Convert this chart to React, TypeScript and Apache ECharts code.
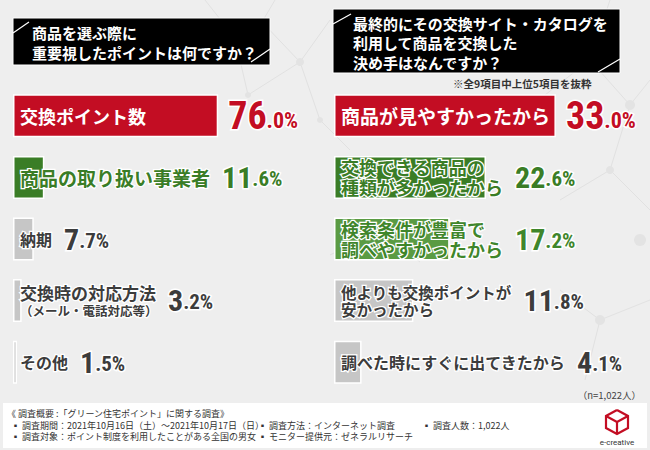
import React, { useEffect, useRef } from 'react';
import * as echarts from 'echarts';

// ---------- data ----------
const leftTitle = ['商品を選ぶ際に', '重要視したポイントは何ですか？'];
const rightTitle = ['最終的にその交換サイト・カタログを', '利用して商品を交換した', '決め手はなんですか？'];
const rightNote = '※全9項目中上位5項目を抜粋';
const sampleNote = '（n=1,022人）';

const leftCategories = ['交換ポイント数', '商品の取り扱い事業者', '納期', '交換時の対応方法\n（メール・電話対応等）', 'その他'];
const leftValues = [76.0, 11.6, 7.7, 3.2, 1.5];

const rightCategories = [
  '商品が見やすかったから',
  '交換できる商品の\n種類が多かったから',
  '検索条件が豊富で\n調べやすかったから',
  '他よりも交換ポイントが\n安かったから',
  '調べた時にすぐに出てきたから',
];
const rightValues = [33.0, 22.6, 17.2, 11.8, 4.1];

const footerTitle = '《 調査概要 :「グリーン住宅ポイント」に関する調査》';
const footerCol1 = ['▪ 調査期間：2021年10月16日（土）～2021年10月17日（日）', '▪ 調査対象：ポイント制度を利用したことがある全国の男女'];
const footerCol2 = ['▪ 調査方法：インターネット調査', '▪ モニター提供元：ゼネラルリサーチ'];
const footerCol3 = ['▪ 調査人数：1,022人'];
const logoText = 'e-creative';

// ---------- styles ----------
const CJK = "'Noto Sans CJK JP', 'Noto Sans', sans-serif";
const NUM = "'Liberation Sans Narrow', 'Roboto Condensed', 'DejaVu Sans Condensed', Roboto, sans-serif";
const RED = '#c30d23';

const tones: Record<string, { bar: string; text: string; border: string; bw: number; value: string }> = {
  red: { bar: RED, text: '#ffffff', border: 'transparent', bw: 0, value: RED },
  green: { bar: '#3a7d26', text: '#3a7d26', border: '#ffffff', bw: 2.5, value: '#3a7d26' },
  lightgreen: { bar: '#5a9b43', text: '#3f862b', border: '#ffffff', bw: 2.5, value: '#3f862b' },
  gray: { bar: '#c6c6c6', text: '#3c3c3c', border: '#ffffff', bw: 2.5, value: '#3c3c3c' },
};

const leftTones = ['red', 'green', 'gray', 'gray', 'gray'];
const rightTones = ['red', 'green', 'lightgreen', 'gray', 'gray'];
const leftNameSizes = [18, 19, 16, 17, 16];
const rightNameSizes = [19, 18, 18, 15.5, 16];
const leftSmallSecondLine = [false, false, false, true, false];
const rightSmallSecondLine = [false, false, false, false, false];
const VALUE_GAP = 12;

let measureCtx: CanvasRenderingContext2D | null = null;
function textWidth(text: string, size: number) {
  if (!measureCtx) measureCtx = document.createElement('canvas').getContext('2d');
  measureCtx!.font = `bold ${size}px ${CJK}`;
  return measureCtx!.measureText(text).width;
}

function mainLines(cat: string, small: boolean) {
  return cat.split('\n').filter((_, k) => !(k > 0 && small));
}

function buildRich(cats: string[], tonesArr: string[], sizes: number[], small: boolean[]) {
  const rich: Record<string, any> = {
    s: {
      fontSize: 12.5,
      fontWeight: 'bold',
      fontFamily: CJK,
      color: tones.gray.text,
      textBorderColor: '#fff',
      textBorderWidth: 2.5,
      lineHeight: 16,
    },
  };
  tonesArr.forEach((t, i) => {
    const tone = tones[t];
    const big = i === 0;
    const offset = big
      ? 0
      : Math.max(...mainLines(cats[i], small[i]).map((l) => textWidth(l, sizes[i]))) + VALUE_GAP;
    rich['n' + i] = {
      fontSize: sizes[i],
      fontWeight: 'bold',
      fontFamily: CJK,
      color: tone.text,
      textBorderColor: tone.border,
      textBorderWidth: tone.bw,
      lineHeight: sizes[i] + 2,
    };
    rich['i' + i] = {
      fontSize: big ? 38 : 30,
      fontWeight: 'bold',
      fontFamily: NUM,
      color: tone.value,
      textBorderColor: '#fff',
      textBorderWidth: 3,
      lineHeight: big ? 38 : 30,
      verticalAlign: 'bottom',
      padding: [0, 0, 0, offset],
    };
    rich['d' + i] = {
      fontSize: big ? 22 : 21,
      fontWeight: 'bold',
      fontFamily: NUM,
      color: tone.value,
      textBorderColor: '#fff',
      textBorderWidth: 3,
      lineHeight: big ? 22 : 21,
      verticalAlign: 'bottom',
      padding: [0, 0, 3, 0],
    };
  });
  return rich;
}

function panelSeries(cats: string[], vals: number[], tonesArr: string[], sizes: number[], small: boolean[], g: number) {
  const rich = buildRich(cats, tonesArr, sizes, small);
  const nameFormatter = (p: any) => {
    const i = p.dataIndex;
    return cats[i]
      .split('\n')
      .map((l, k) => (k > 0 && small[i] ? `{s|${l}}` : `{n${i}|${l}}`))
      .join('\n');
  };
  const valueFormatter = (p: any) => {
    const i = p.dataIndex;
    const [ip, dp] = vals[i].toFixed(1).split('.');
    return `{i${i}|${ip}}{d${i}|.${dp}%}`;
  };
  return [
    {
      type: 'bar',
      xAxisIndex: g,
      yAxisIndex: g,
      barWidth: 43,
      barGap: '-100%',
      silent: true,
      z: 2,
      data: vals.map((v, i) => ({ value: v, itemStyle: { color: tones[tonesArr[i]].bar } })),
      itemStyle: { borderColor: '#ffffff', borderWidth: 1.5 },
      label: { show: true, position: 'insideLeft', distance: 7, formatter: nameFormatter, rich },
    },
    {
      type: 'bar',
      xAxisIndex: g,
      yAxisIndex: g,
      barWidth: 43,
      barGap: '-100%',
      silent: true,
      z: 3,
      itemStyle: { color: 'transparent' },
      data: vals.map((v, i) => ({
        value: v,
        label: { position: i === 0 ? 'right' : 'insideLeft', distance: i === 0 ? 10 : 7 },
      })),
      label: { show: true, formatter: valueFormatter, rich },
    },
  ];
}

// faint network background
const netLines: number[][][] = [
  [[205, 0], [235, 38], [262, 22], [300, 62], [330, 20]],
  [[235, 38], [248, 95], [300, 62]],
  [[262, 22], [275, 0]],
  [[300, 62], [320, 120], [350, 150]],
  [[545, 95], [590, 60], [630, 105], [650, 80]],
  [[590, 60], [610, 0]],
  [[560, 200], [610, 170], [650, 210]],
  [[610, 170], [630, 105]],
  [[330, 255], [380, 230], [420, 262]],
  [[560, 290], [600, 320], [650, 300]],
  [[600, 320], [585, 380]],
];
const netNodes: number[][] = [
  [235, 38, 4], [262, 22, 3], [300, 62, 4], [248, 95, 3], [320, 120, 3],
  [590, 60, 4], [630, 105, 5], [610, 170, 4], [380, 230, 3], [600, 320, 5], [640, 240, 6],
];

function buildGraphics() {
  const els: any[] = [];
  netLines.forEach((pts) =>
    els.push({ type: 'polyline', silent: true, z: -10, shape: { points: pts }, style: { stroke: '#e1e1e1', lineWidth: 1, fill: null } })
  );
  netNodes.forEach(([x, y, r]) =>
    els.push({ type: 'circle', silent: true, z: -10, shape: { cx: x, cy: y, r }, style: { fill: '#e3e3e3' } })
  );

  // left title box
  els.push({ type: 'rect', shape: { x: 13, y: 18, width: 257, height: 47 }, style: { fill: '#000', stroke: '#fff', lineWidth: 1 } });
  els.push({ type: 'line', shape: { x1: 13, y1: 33, x2: 29, y2: 22 }, style: { stroke: '#fff', lineWidth: 1.2 } });
  els.push({ type: 'line', shape: { x1: 251, y1: 62, x2: 270, y2: 49 }, style: { stroke: '#fff', lineWidth: 1.2 } });
  leftTitle.forEach((t, k) =>
    els.push({
      type: 'text',
      style: { text: t, x: 32, y: 32 + k * 20.5, fill: '#fff', fontSize: 15, fontWeight: 'bold', fontFamily: CJK, verticalAlign: 'middle' },
    })
  );

  // right title box
  els.push({ type: 'rect', shape: { x: 333, y: 9, width: 287, height: 64 }, style: { fill: '#000', stroke: '#fff', lineWidth: 1 } });
  els.push({ type: 'line', shape: { x1: 333, y1: 24, x2: 351, y2: 14 }, style: { stroke: '#fff', lineWidth: 1.2 } });
  els.push({ type: 'line', shape: { x1: 598, y1: 72, x2: 620, y2: 59 }, style: { stroke: '#fff', lineWidth: 1.2 } });
  rightTitle.forEach((t, k) =>
    els.push({
      type: 'text',
      style: { text: t, x: 353, y: 23 + k * 19.5, fill: '#fff', fontSize: 15, fontWeight: 'bold', fontFamily: CJK, verticalAlign: 'middle' },
    })
  );
  els.push({
    type: 'text',
    style: { text: rightNote, x: 453, y: 83, fill: '#333', fontSize: 10.5, fontWeight: 'bold', fontFamily: CJK, verticalAlign: 'middle' },
  });
  els.push({
    type: 'text',
    style: { text: sampleNote, x: 641, y: 395, fill: '#444', fontSize: 9.5, fontFamily: CJK, align: 'right', verticalAlign: 'middle' },
  });

  // footer
  els.push({ type: 'rect', shape: { x: 3, y: 403, width: 644, height: 45 }, style: { fill: '#fff' } });
  els.push({
    type: 'text',
    style: { text: footerTitle, x: 7, y: 413, fill: '#333', fontSize: 9, fontFamily: CJK, verticalAlign: 'middle' },
  });
  const cols: [string[], number][] = [[footerCol1, 11], [footerCol2, 258], [footerCol3, 422]];
  cols.forEach(([lines, x]) =>
    lines.forEach((t, k) =>
      els.push({
        type: 'text',
        style: { text: t, x, y: 425 + k * 11.5, fill: '#333', fontSize: 9, fontFamily: CJK, verticalAlign: 'middle' },
      })
    )
  );

  // logo
  els.push({
    type: 'polyline',
    shape: { points: [[617, 410], [628, 416], [628, 428], [617, 434], [606, 428], [606, 416], [617, 410]] },
    style: { stroke: RED, lineWidth: 2.2, fill: null },
  });
  els.push({
    type: 'polyline',
    shape: { points: [[606, 416], [617, 422], [628, 416]] },
    style: { stroke: RED, lineWidth: 2.2, fill: null },
  });
  els.push({
    type: 'line',
    shape: { x1: 617, y1: 422, x2: 617, y2: 434 },
    style: { stroke: RED, lineWidth: 2.2 },
  });
  els.push({
    type: 'text',
    style: { text: logoText, x: 617, y: 442, fill: '#333', fontSize: 8, fontFamily: 'Roboto, sans-serif', align: 'center', verticalAlign: 'middle' },
  });
  return els;
}

export default function App() {
  const ref = useRef<HTMLDivElement>(null);
  useEffect(() => {
    document.body.style.margin = '0';
    const chart = echarts.init(ref.current!, null, { renderer: 'svg' });
    const option: any = {
      animation: false,
      backgroundColor: '#eeeeee',
      grid: [
        { left: 13, top: 85, width: 270, height: 308 },
        { left: 334, top: 85, width: 269, height: 308 },
      ],
      xAxis: [
        { type: 'value', gridIndex: 0, min: 0, max: 100, show: false },
        { type: 'value', gridIndex: 1, min: 0, max: 40, show: false },
      ],
      yAxis: [
        { type: 'category', gridIndex: 0, inverse: true, data: leftCategories, show: false },
        { type: 'category', gridIndex: 1, inverse: true, data: rightCategories, show: false },
      ],
      series: [
        ...panelSeries(leftCategories, leftValues, leftTones, leftNameSizes, leftSmallSecondLine, 0),
        ...panelSeries(rightCategories, rightValues, rightTones, rightNameSizes, rightSmallSecondLine, 1),
      ],
      graphic: buildGraphics(),
    };
    chart.setOption(option);
    return () => chart.dispose();
  }, []);
  return <div ref={ref} style={{ width: 650, height: 450 }} />;
}
